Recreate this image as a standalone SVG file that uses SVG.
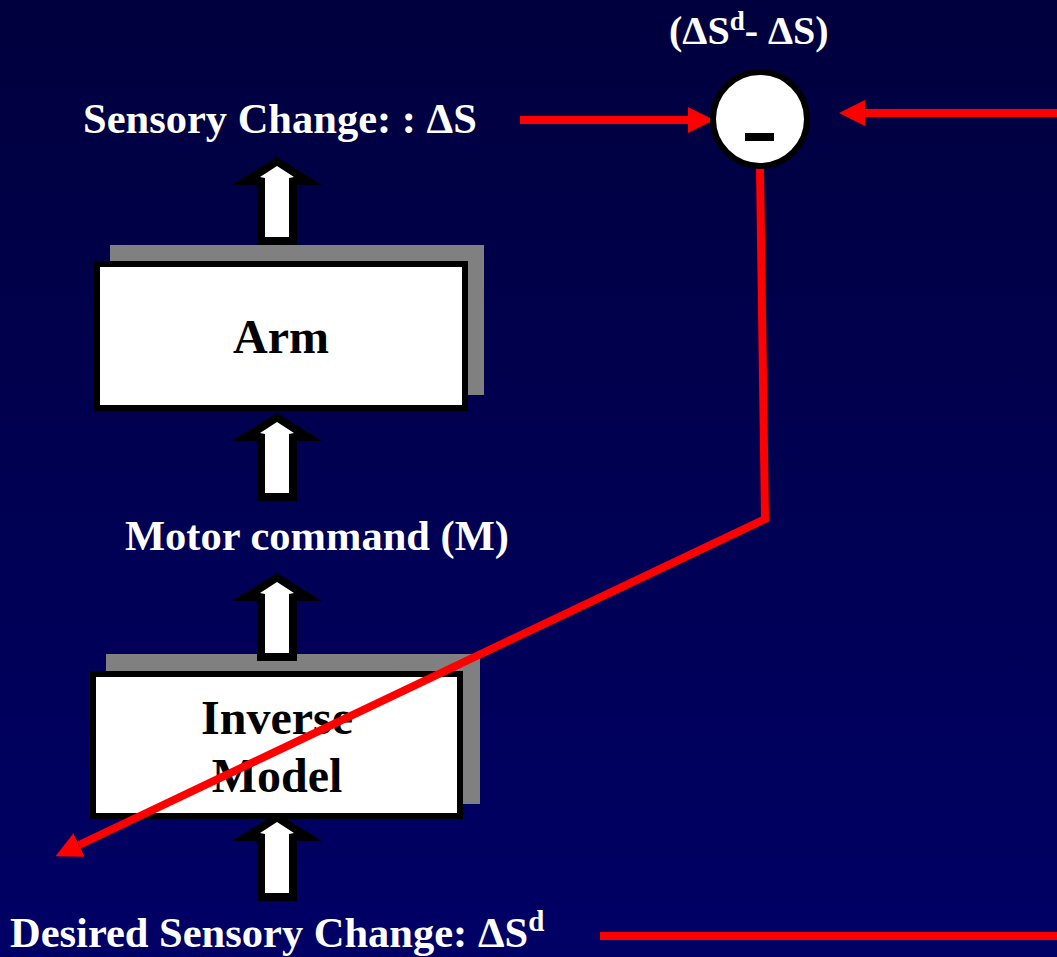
<svg xmlns="http://www.w3.org/2000/svg" xmlns:xlink="http://www.w3.org/1999/xlink" width="1057" height="957" viewBox="0 0 1057 957">
  <defs>
    <linearGradient id="bg" x1="0" y1="0" x2="0" y2="1">
      <stop offset="0" stop-color="#00003E"/>
      <stop offset="1" stop-color="#000066"/>
    </linearGradient>
    <!-- hollow block arrow pointing up, tip at (0,0) -->
    <g id="blockArrow">
      <polygon points="0,0 45,28 20,28 20,88 -20,88 -20,28 -45,28" fill="#000"/>
      <polygon points="0,9 17,20 12,21 12,80 -12,80 -12,21 -17,20" fill="#fff"/>
    </g>
    <marker id="redHead" markerUnits="userSpaceOnUse" markerWidth="26" markerHeight="26" viewBox="0 0 24 24" refX="0" refY="12" orient="auto">
      <path d="M0,0 L24,12 L0,24 z" fill="#ff0000"/>
    </marker>
    <style>
      .lbl { font-family: "Liberation Serif", "Times New Roman", serif; font-weight: bold; fill: #fff; font-size: 42.5px; }
      .lbl-small { font-size: 40px; }
      .box-text { font-family: "Liberation Serif", "Times New Roman", serif; font-weight: bold; fill: #000; font-size: 48px; text-anchor: middle; }
      .shadow { fill: #808080; }
      .box { fill: #fff; stroke: #000; stroke-width: 6; }
      .wire { fill: none; stroke: #ff0000; stroke-width: 8; stroke-linejoin: miter; }
    </style>
  </defs>

  <rect x="0" y="0" width="1057" height="957" fill="url(#bg)"/>

  <!-- Arm block -->
  <g id="arm">
    <rect class="shadow" x="110" y="245" width="374" height="150"/>
    <rect class="box" x="97" y="264" width="368" height="144"/>
    <text class="box-text" x="281" y="353">Arm</text>
  </g>

  <!-- Inverse model block -->
  <g id="inverse-model">
    <rect class="shadow" x="106" y="654" width="374" height="150"/>
    <rect class="box" x="93" y="674" width="367" height="142"/>
    <text class="box-text" x="277" y="734">Inverse</text>
    <text class="box-text" x="277" y="792">Model</text>
  </g>

  <!-- hollow up-arrows along the forward chain -->
  <g id="flow-arrows">
    <use xlink:href="#blockArrow" transform="translate(277,157)"/>
    <use xlink:href="#blockArrow" transform="translate(277,413)"/>
    <use xlink:href="#blockArrow" transform="translate(277,573)"/>
    <use xlink:href="#blockArrow" transform="translate(277,813)"/>
  </g>

  <!-- labels -->
  <g id="label-sensory">
    <text class="lbl" x="83" y="133">Sensory Change: : ΔS</text>
  </g>
  <g id="label-motor">
    <text class="lbl" x="125" y="550">Motor command (M)</text>
  </g>
  <g id="label-desired">
    <text class="lbl" x="10" y="947">Desired Sensory Change: ΔS<tspan style="font-size:29px" dy="-16">d</tspan></text>
  </g>
  <g id="label-error">
    <text class="lbl lbl-small" x="669" y="44">(ΔS<tspan style="font-size:27px" dy="-14">d</tspan><tspan dy="14">- ΔS)</tspan></text>
  </g>

  <!-- red signal connectors -->
  <g id="connectors">
    <line class="wire" x1="520" y1="120" x2="688" y2="120" marker-end="url(#redHead)"/>
    <line class="wire" x1="1057" y1="113" x2="865" y2="113" marker-end="url(#redHead)"/>
    <polyline class="wire" points="760,168 765,519 79,845" marker-end="url(#redHead)"/>
    <line class="wire" x1="600" y1="936" x2="1057" y2="936"/>
  </g>

  <!-- comparator -->
  <g id="comparator">
    <circle cx="760" cy="119" r="47" fill="#fff" stroke="#000" stroke-width="6"/>
    <rect x="745" y="133" width="29" height="8" fill="#000"/>
  </g>
</svg>
